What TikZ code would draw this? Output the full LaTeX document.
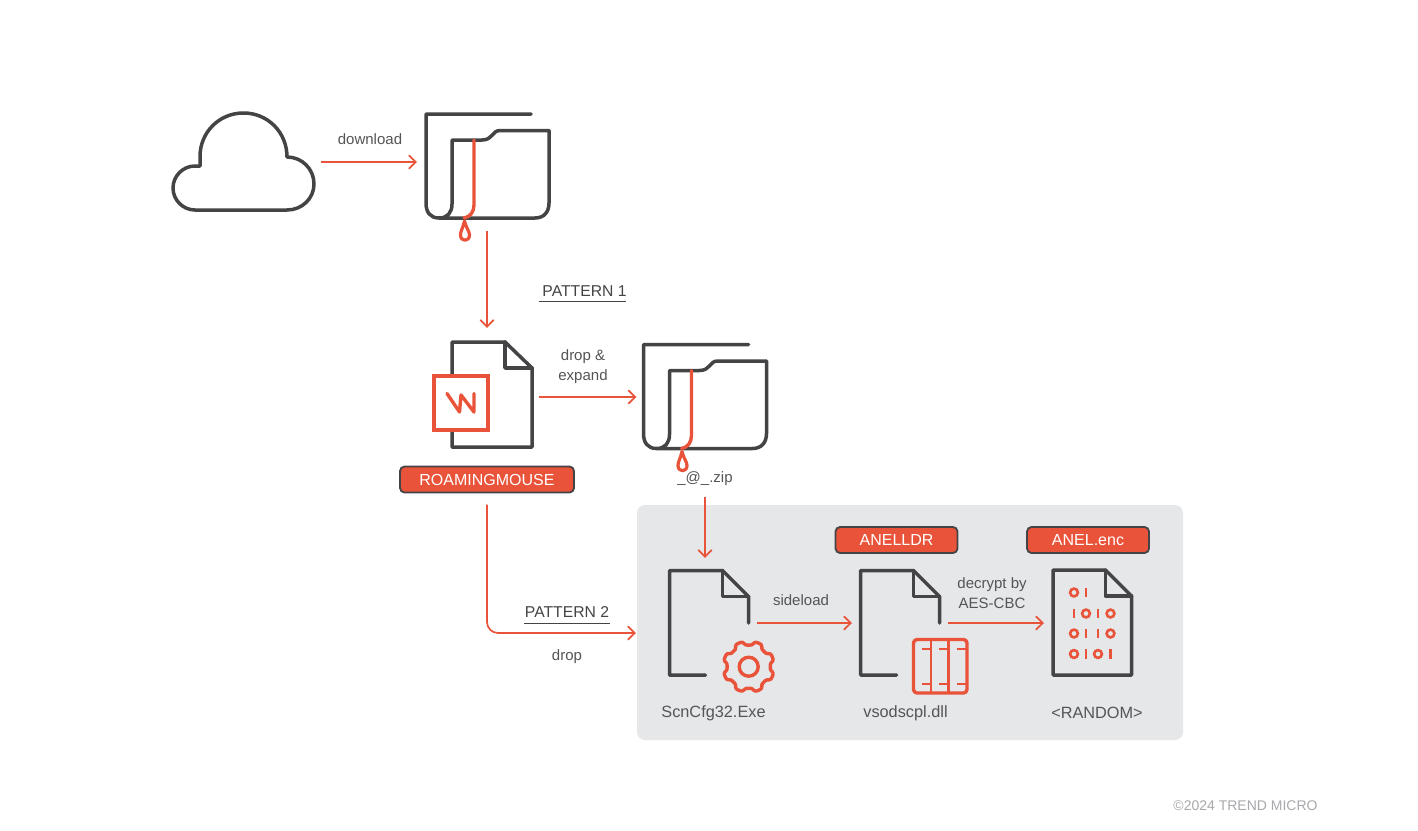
\documentclass[tikz,border=0pt]{standalone}
\usepackage{fontspec}
\setmainfont{Liberation Sans}
\usetikzlibrary{arrows.meta,calc}
\definecolor{acc}{HTML}{E9533A}
\definecolor{ink}{HTML}{444446}
\definecolor{txt}{HTML}{555558}
\definecolor{panel}{HTML}{E6E7E9}
\definecolor{foot}{HTML}{A9A9AD}
\tikzset{
  x=1pt,y=-1pt,
  flow/.style={draw=acc,line width=1.7pt,-{Straight Barb[length=7pt,width=13.5pt,line width=1.7pt]}},
  icon/.style={draw=ink,line width=3.5pt,line join=round,line cap=round},
  accent/.style={draw=acc,line width=3.4pt,line join=round,line cap=round},
  anchorbox/.style={inner sep=0pt,draw=none},
  lbl/.style={text=txt,font=\fontsize{15}{15}\selectfont,inner sep=0pt},
  namelbl/.style={text=txt,font=\fontsize{16.3}{16.3}\selectfont,inner sep=0pt},
  heading/.style={text=ink,font=\fontsize{15.7}{15.7}\selectfont,inner sep=0pt},
  tagbox/.style={fill=acc,draw=ink,line width=1.8pt,rounded corners=4.5pt,text=white,font=\fontsize{16}{16}\selectfont,inner sep=0pt},
  ruleline/.style={draw=ink,line width=1.8pt},
}
\newcommand{\folder}[2]{%
  \begin{scope}[shift={(#1,#2)}]
    \draw[icon] (531,114) -- (426,114) -- (426,203) .. controls (426,212) and (430,218) .. (439,218)
      -- (535,218) .. controls (544,218) and (549,212) .. (549,203) -- (549,130.5) -- (500,130.5)
      .. controls (492,130.5) and (493,140) .. (482,140) -- (452,140) -- (452,204)
      .. controls (452,212) and (448,218) .. (439,218);
    \draw[accent] (474,140) -- (474,205) .. controls (474,212) and (470,217) .. (464,218);
    \draw[accent,line width=3.2pt] (464.5,221) .. controls (463,228) and (460.5,231) .. (460.5,235)
      .. controls (460.5,242) and (469.5,242) .. (469.5,235) .. controls (469.5,231) and (466,228) .. (464.5,221) -- cycle;
  \end{scope}}
\newcommand{\binzero}[2]{\draw[acc,line width=2.6pt] (#1,#2) circle[radius=3.9];}
\newcommand{\binone}[2]{\draw[acc,line width=2.6pt] (#1,#2-4.8) -- (#1,#2+4.8);}
\begin{document}
\begin{tikzpicture}
\useasboundingbox (0,0) rectangle (1418,830);
\fill[white] (0,0) rectangle (1418,830);
\fill[panel,rounded corners=8pt] (637,505) rectangle (1183,740);

% anchors for the icons
\node[anchorbox,minimum width=142pt,minimum height=97pt,outer xsep=7pt] (cloud) at (243,162) {};
\node[anchorbox,minimum width=123pt,minimum height=104pt,outer xsep=8.5pt,outer ysep=13pt] (folderA) at (487,166) {};
\node[anchorbox,minimum width=98pt,minimum height=105pt,outer xsep=7pt,outer ysep=14pt] (docA) at (483,394.5) {};
\node[anchorbox,minimum width=123pt,minimum height=104pt,outer xsep=7pt] (folderB) at (705,397) {};
\coordinate (zipOut) at (705,497);
\coordinate (scnIn) at (705,558);
\coordinate (scnOut) at (757,623);
\coordinate (dllIn) at (852,623);
\coordinate (dllOut) at (948,623);
\coordinate (rndIn) at (1044,623);
\coordinate (scnDrop) at (636,633);

% cloud
\draw[icon] (195,210) .. controls (183,210) and (173,200) .. (173,188)
  .. controls (173,176) and (183,166) .. (195,166) -- (200,166) -- (200,156.5)
  .. controls (200,132.5) and (219,113) .. (243.5,113)
  .. controls (268,113) and (287,132.5) .. (287,157)
  .. controls (302,157) and (314,169) .. (314,184)
  .. controls (314,198.5) and (302,210) .. (287,210) -- cycle;

\folder{0}{0}
\folder{217.5}{230.5}

% first document
\draw[icon] (452,376) -- (452,342) -- (505,342) -- (532,368) -- (532,447) -- (452,447) -- (452,431);
\draw[icon] (505,342) -- (505,368) -- (532,368);
\draw[accent,line join=miter] (434,376) rectangle (488,430);
\draw[accent] (447,393.5) -- (459.5,412) -- (461,395) -- (474,412) -- (474,393.5);

% ScnCfg32 document and gear
\draw[icon] (705.5,675) -- (669.5,675) -- (669.5,570.5) -- (722.5,570.5) -- (748.5,596.5) -- (748.5,623);
\draw[icon] (722.5,570.5) -- (722.5,596.5) -- (748.5,596.5);
\draw[accent] plot[smooth cycle,samples=121,domain=0:357] ({748.7+(23.6+2*tanh(-2.2*cos(8*\x)))*cos(\x)},{666.7+(23.6+2*tanh(-2.2*cos(8*\x)))*sin(\x)});
\draw[accent] (748.7,666.7) circle[radius=9.5];

% vsodscpl document and table
\draw[icon] (896.5,675) -- (860.5,675) -- (860.5,570.5) -- (913.5,570.5) -- (939.5,596.5) -- (939.5,623);
\draw[icon] (913.5,570.5) -- (913.5,596.5) -- (939.5,596.5);
\draw[accent,rounded corners=3.5pt] (913.5,639.5) rectangle (967,693);
\draw[accent,line width=2.8pt,line cap=butt] (931,639.5) -- (931,693) (948.5,639.5) -- (948.5,693);
\draw[acc,line width=2pt] (921.5,649) -- (931,649) (939,649) -- (948.5,649) (956.5,649) -- (966,649)
  (921.5,683.5) -- (931,683.5) (939,683.5) -- (948.5,683.5) (956.5,683.5) -- (966,683.5);

% random document and bits
\draw[icon] (1105.5,570) -- (1053,570) -- (1053,675) -- (1131.5,675) -- (1131.5,596) -- cycle;
\draw[icon] (1105.5,570) -- (1105.5,596) -- (1131.5,596);
\binzero{1074}{592.5}\binone{1086}{592.5}
\binone{1074}{613.5}\binzero{1086}{613.5}\binone{1098}{613.5}\binzero{1110.5}{613.5}
\binzero{1074}{633.5}\binone{1086}{633.5}\binone{1098}{633.5}\binzero{1110.5}{633.5}
\binzero{1074}{654}\binone{1086}{654}\binzero{1098}{654}\binone{1110.5}{654}

% tags
\node[tagbox,minimum width=174pt,minimum height=26pt,outer ysep=12pt] (tagRoam) at (487,479.5) {ROAMINGMOUSE};
\node[tagbox,minimum width=122pt,minimum height=26pt] (tagLdr) at (896.5,540) {ANELLDR};
\node[tagbox,minimum width=122pt,minimum height=26pt] (tagEnc) at (1088,540) {ANEL.enc};

% connectors
\draw[flow] (cloud.east) -- (cloud.east -| folderA.west);
\draw[flow] (folderA.south) -- (folderA.south |- docA.north);
\draw[flow] (docA.east |- folderB.west) -- (folderB.west);
\draw[flow] (zipOut) -- (scnIn);
\draw[flow] (scnOut) -- (dllIn);
\draw[flow] (dllOut) -- (rndIn);
\draw[flow,rounded corners=11pt] (tagRoam.south) -- (tagRoam.south |- scnDrop) -- (scnDrop);

% labels
\node[lbl] (lblDownload) at (370,139) {download};
\node[heading] (lblP1) at (584.5,291) {PATTERN 1};
\draw[ruleline] (539,301.5) -- (626,301.5);
\node[lbl,align=center] (lblDrop1) at (583,367) {drop \&\\[5pt]expand};
\node[lbl] (lblZip) at (705,479) {\_@\_.zip};
\node[heading] (lblP2) at (567,612.5) {PATTERN 2};
\draw[ruleline] (524,623.5) -- (610,623.5);
\node[lbl] (lblDrop2) at (567,657) {drop};
\node[lbl] (lblSide) at (801,600) {sideload};
\node[lbl,align=center] (lblAes) at (992,593) {decrypt by\\[5pt]AES-CBC};
\node[namelbl] (lblScn) at (713.5,713) {ScnCfg32.Exe};
\node[namelbl] (lblDll) at (905.5,713) {vsodscpl.dll};
\node[namelbl] (lblRnd) at (1097,713) {<RANDOM>};
\node[text=foot,font=\fontsize{14}{14}\selectfont,inner sep=0pt] (lblCopy) at (1245.5,806) {©2024 TREND MICRO};
\end{tikzpicture}
\end{document}
